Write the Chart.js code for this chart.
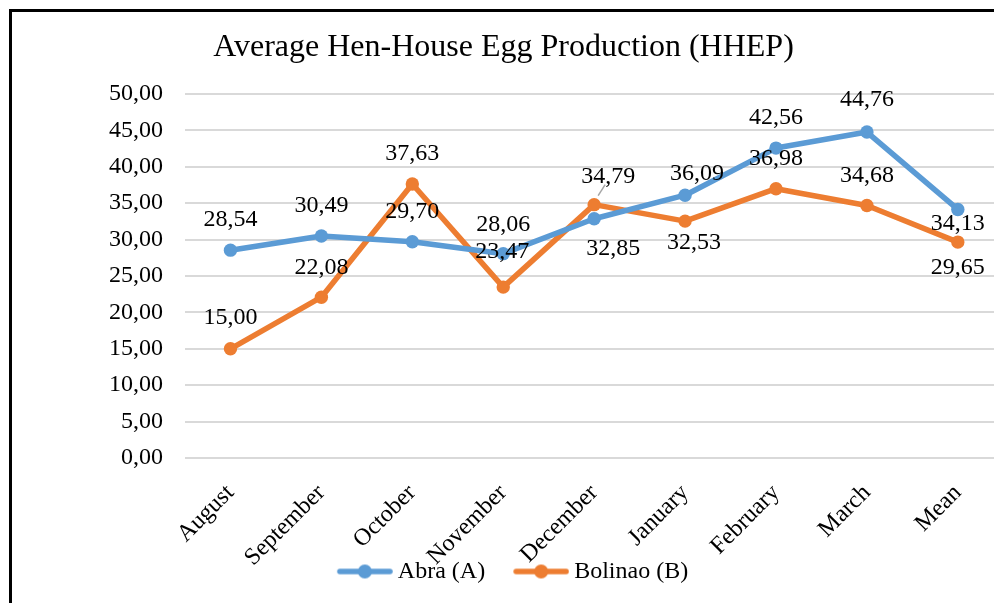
<!DOCTYPE html>
<html>
<head>
<meta charset="utf-8">
<script src="https://cdn.jsdelivr.net/npm/chart.js@4"></script>
<style>
  html, body { margin: 0; padding: 0; background: #fff; overflow: hidden; }
  #wrap { position: relative; width: 994px; height: 603px; overflow: hidden; }
  #chart { position: absolute; left: 0; top: 0; }
  #frame {
    position: absolute; left: 9px; top: 9px; width: 2000px; height: 2000px;
    border: 3px solid #000; pointer-events: none;
  }
</style>
</head>
<body>
<div id="wrap">
  <canvas id="chart" width="1010" height="603"></canvas>
  <div id="frame"></div>
</div>
<script>
// Данные графика
const months = ['August', 'September', 'October', 'November', 'December', 'January', 'February', 'March', 'Mean'];
const abraValues = [28.54, 30.49, 29.70, 28.06, 32.85, 36.09, 42.56, 44.76, 34.13];
const bolinaoValues = [15.00, 22.08, 37.63, 23.47, 34.79, 32.53, 36.98, 34.68, 29.65];
const yTicks = [0, 5, 10, 15, 20, 25, 30, 35, 40, 45, 50];

const seriesNames = ['Abra (A)', 'Bolinao (B)'];
const seriesColors = ['#5B9BD5', '#ED7D31'];

// Смещения подписей значений относительно точки (как в исходнике)
const labelOffsets = [
  [[0, -30], [0, -30], [0, -30], [0, -29], [19, 30], [12, -21], [0, -30], [0, -32], [0, 14]],
  [[0, -31], [0, -30], [0, -30], [-1, -35], [14, -28], [9, 22], [0, -30], [0, -30], [0, 26]],
];
// Выноска у подписи 34,79
const leaderLines = [{ dataset: 1, index: 4 }];

const FONT = "'Liberation Serif', 'Times New Roman', serif";
const FONT_SIZE = 24;
const fmt = (v) => v.toFixed(2).replace('.', ',');

// Маркер легенды: линия с кругом (слева прозрачный отступ, чтобы выровнять зазоры)
function legendMarker(color) {
  const c = document.createElement('canvas');
  c.width = 81;
  c.height = 16;
  const g = c.getContext('2d');
  g.strokeStyle = color;
  g.lineWidth = 5.5;
  g.lineCap = 'round';
  g.beginPath();
  g.moveTo(28, 8);
  g.lineTo(78, 8);
  g.stroke();
  g.fillStyle = color;
  g.beginPath();
  g.arc(53, 8, 7, 0, Math.PI * 2);
  g.fill();
  return c;
}

// Плагин подписей значений
const valueLabelsPlugin = {
  id: 'valueLabels',
  afterDatasetsDraw(chart) {
    const ctx = chart.ctx;
    ctx.save();
    ctx.font = `${FONT_SIZE}px ${FONT}`;
    ctx.fillStyle = '#000';
    ctx.textAlign = 'center';
    ctx.textBaseline = 'middle';
    chart.data.datasets.forEach((ds, di) => {
      const meta = chart.getDatasetMeta(di);
      meta.data.forEach((pt, i) => {
        const [dx, dy] = labelOffsets[di][i];
        ctx.fillText(fmt(ds.data[i]), pt.x + dx, pt.y + dy);
      });
    });
    leaderLines.forEach(({ dataset, index }) => {
      const pt = chart.getDatasetMeta(dataset).data[index];
      ctx.strokeStyle = '#a6a6a6';
      ctx.lineWidth = 1.5;
      ctx.beginPath();
      ctx.moveTo(pt.x + 4, pt.y - 9);
      ctx.lineTo(pt.x + 11, pt.y - 20);
      ctx.stroke();
    });
    ctx.restore();
  },
};

// Подписи оси X заходят в область легенды — не обрезаем их
const unclipXLabelsPlugin = {
  id: 'unclipXLabels',
  afterLayout(chart) {
    chart.scales.x.bottom = chart.height;
  },
};

const ctx = document.getElementById('chart').getContext('2d');
new Chart(ctx, {
  type: 'line',
  data: {
    labels: months,
    datasets: [abraValues, bolinaoValues].map((values, i) => ({
      label: seriesNames[i],
      data: values,
      borderColor: seriesColors[i],
      backgroundColor: seriesColors[i],
      borderWidth: 5.5,
      borderJoinStyle: 'round',
      pointRadius: 6.7,
      pointBorderWidth: 0,
      pointBackgroundColor: seriesColors[i],
      tension: 0,
    })),
  },
  options: {
    responsive: false,
    animation: false,
    devicePixelRatio: 1,
    layout: {
      padding: { left: 3, right: 6, top: 0, bottom: 9.5 },
    },
    plugins: {
      tooltip: { enabled: false },
      title: {
        display: true,
        text: 'Average Hen-House Egg Production (HHEP)',
        color: '#000',
        font: { family: FONT, size: 32, weight: 'normal', lineHeight: 1.2 },
        padding: { top: 28.5, bottom: 27 },
      },
      legend: {
        position: 'bottom',
        labels: {
          usePointStyle: true,
          pointStyleWidth: 67,
          padding: 10,
          color: '#000',
          font: { family: FONT, size: FONT_SIZE },
          generateLabels: function (chart) {
            return chart.data.datasets.map((dataset, i) => ({
              text: dataset.label,
              pointStyle: legendMarker(seriesColors[i]),
              fillStyle: seriesColors[i],
              strokeStyle: seriesColors[i],
              lineWidth: 0,
              hidden: !chart.isDatasetVisible(i),
              datasetIndex: i,
            }));
          },
        },
      },
    },
    scales: {
      x: {
        offset: true,
        grid: { display: false, drawTicks: false },
        border: { display: false },
        ticks: {
          color: '#000',
          font: { family: FONT, size: FONT_SIZE },
          maxRotation: 45,
          minRotation: 45,
          padding: 21,
          autoSkip: false,
        },
        afterFit: (scale) => {
          scale.height = 91.5;
        },
      },
      y: {
        min: 0,
        max: 50,
        afterBuildTicks: (scale) => {
          scale.ticks = yTicks.map((v) => ({ value: v }));
        },
        grid: { color: '#d9d9d9', lineWidth: 2, drawTicks: false },
        border: { display: false },
        ticks: {
          color: '#000',
          font: { family: FONT, size: FONT_SIZE },
          padding: 22,
          callback: (v) => fmt(v),
        },
        afterFit: (scale) => {
          scale.width = 182;
        },
      },
    },
  },
  plugins: [valueLabelsPlugin, unclipXLabelsPlugin],
});
</script>
</body>
</html>
